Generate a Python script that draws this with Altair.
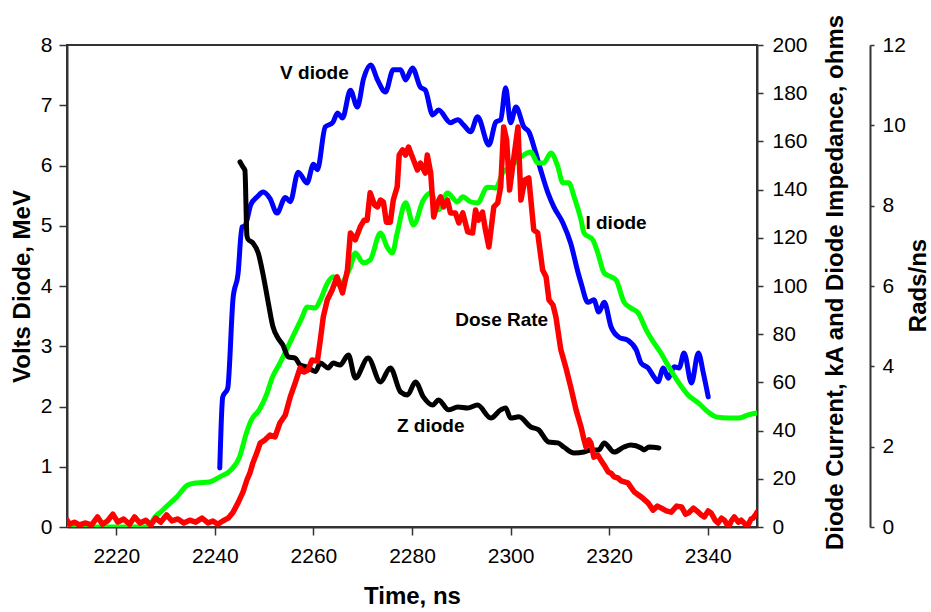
import altair as alt
import pandas as pd

# ---------------- data ----------------
# V diode (MeV, left axis)
v_time = [2241.0, 2241.6, 2242.6, 2243.7, 2244.7, 2245.5, 2246.1, 2247.3, 2248.6, 2249.8,
          2251.2, 2252.6, 2254.3, 2255.3, 2256.9, 2258.7, 2260.0, 2260.8, 2262.4, 2263.9,
          2264.9, 2265.9, 2267.5, 2268.9, 2270.2, 2271.6, 2273.0, 2274.6, 2276.2, 2277.7,
          2278.7, 2280.1, 2281.7, 2282.7, 2284.2, 2285.4, 2287.8, 2289.3, 2290.5, 2291.9,
          2293.3, 2295.6, 2297.0, 2298.0, 2299.0, 2300.0, 2301.1, 2302.7, 2303.7, 2305.1,
          2306.1, 2307.6, 2308.8, 2310.6, 2312.2, 2313.7, 2314.3, 2315.7, 2316.9, 2317.9,
          2319.0, 2320.4, 2322.0, 2323.8, 2325.5, 2326.5, 2327.9, 2329.1, 2329.9, 2331.0,
          2332.0, 2333.2, 2334.2, 2335.2, 2336.7, 2338.1, 2339.1, 2340.1]
v_mev = [0.98, 2.16, 2.30, 3.80, 4.20, 4.98, 5.00, 5.35, 5.48, 5.56,
         5.45, 5.21, 5.47, 5.40, 5.89, 5.71, 6.02, 5.93, 6.64, 6.71,
         6.87, 6.79, 7.25, 6.97, 7.45, 7.67, 7.42, 7.22, 7.59, 7.59,
         7.42, 7.62, 7.30, 7.25, 6.84, 6.92, 6.71, 6.76, 6.67, 6.56,
         6.81, 6.34, 6.72, 6.76, 7.29, 6.71, 6.97, 6.64, 6.56, 6.21,
         5.93, 5.54, 5.31, 5.05, 4.71, 4.22, 4.05, 3.73, 3.77, 3.57,
         3.73, 3.32, 3.15, 3.10, 2.94, 2.72, 2.64, 2.49, 2.41, 2.64,
         2.47, 2.66, 2.64, 2.89, 2.39, 2.89, 2.56, 2.16]

# I diode (kA, right axis)
i_time = [2210.0, 2226.8, 2227.2, 2229.4, 2232.3, 2234.5, 2236.3, 2238.9, 2241.0, 2243.3,
          2245.0, 2246.4, 2247.4, 2249.0, 2250.6, 2251.6, 2253.2, 2255.2, 2257.7, 2258.7,
          2260.4, 2261.4, 2262.8, 2264.0, 2265.4, 2266.1, 2267.5, 2268.5, 2270.1, 2271.5,
          2273.6, 2275.0, 2276.0, 2277.0, 2278.7, 2280.3, 2282.3, 2283.8, 2285.4, 2287.2,
          2289.2, 2290.3, 2291.9, 2293.3, 2295.3, 2297.0, 2298.4, 2300.0, 2302.1, 2304.1,
          2305.5, 2306.7, 2308.2, 2309.6, 2310.6, 2311.8, 2312.9, 2314.3, 2314.9, 2316.7,
          2317.7, 2319.0, 2320.4, 2321.4, 2323.0, 2324.4, 2325.9, 2327.5, 2329.1, 2330.5,
          2331.9, 2334.0, 2336.0, 2338.1, 2340.1, 2341.7, 2344.2, 2346.2, 2348.2, 2350.0]
i_ka = [0.0, 0.0, 2.0, 7.0, 12.5, 17.4, 18.3, 18.7, 20.8, 23.7,
        29.0, 39.0, 44.4, 48.6, 55.6, 61.8, 68.0, 76.4, 87.0, 91.3,
        90.9, 94.2, 101.0, 103.8, 100.0, 102.0, 108.0, 113.7, 109.6, 110.8,
        122.0, 116.0, 113.7, 122.0, 134.5, 125.3, 135.7, 138.6, 131.6, 138.6,
        134.9, 137.0, 134.9, 134.5, 141.0, 140.7, 146.9, 149.4, 153.6, 155.6,
        151.0, 151.0, 155.2, 149.4, 142.8, 142.8, 137.0, 127.4, 122.0, 119.1,
        113.7, 105.4, 103.8, 102.5, 93.4, 90.9, 88.8, 81.8, 76.4, 72.2,
        67.2, 60.2, 54.8, 51.5, 47.7, 45.7, 45.2, 45.2, 46.5, 47.3]

# Z diode (ohms, right axis)
z_time = [2245.1, 2245.7, 2246.1, 2246.5, 2246.7, 2247.7, 2248.8, 2249.8, 2250.8, 2251.8,
          2252.8, 2253.8, 2254.9, 2256.3, 2257.3, 2258.7, 2260.4, 2261.4, 2263.0, 2264.0,
          2265.4, 2267.1, 2268.5, 2271.1, 2273.6, 2275.6, 2277.7, 2279.1, 2280.7, 2282.3,
          2284.2, 2285.4, 2287.4, 2289.3, 2291.3, 2293.3, 2296.0, 2298.0, 2299.0, 2300.0,
          2301.7, 2304.1, 2305.7, 2307.7, 2309.6, 2310.8, 2312.9, 2314.9, 2316.3, 2317.9,
          2319.0, 2321.0, 2323.0, 2324.4, 2326.5, 2327.1, 2328.1, 2330.1]
z_ohm = [151.5, 149.4, 148.0, 121.0, 119.5, 117.9, 113.7, 104.6, 93.5, 83.0,
         78.4, 75.5, 70.6, 70.1, 67.2, 66.4, 64.5, 68.0, 66.0, 68.0,
         67.2, 71.4, 61.8, 70.1, 60.2, 66.0, 56.0, 54.8, 60.2, 54.0,
         50.6, 52.7, 48.6, 49.8, 49.4, 50.6, 45.2, 48.6, 49.4, 45.2,
         45.7, 41.5, 40.3, 35.3, 34.9, 33.2, 30.7, 31.1, 32.0, 32.0,
         34.9, 31.1, 33.2, 34.0, 32.8, 32.0, 33.2, 32.8]

# Dose rate (Rads/ns, far right axis)
r_time = [2210.0, 2210.5, 2211.5, 2212.5, 2213.8, 2215.0, 2216.2, 2217.2, 2218.2, 2219.3,
          2220.3, 2221.5, 2222.7, 2223.7, 2224.8, 2226.0, 2227.0, 2228.0, 2229.0, 2230.2,
          2231.3, 2232.5, 2233.7, 2234.9, 2236.1, 2237.4, 2238.6, 2239.6, 2240.6, 2241.6,
          2242.7, 2243.7, 2244.7, 2245.7, 2246.5, 2247.1, 2247.7, 2248.5, 2249.2, 2250.2,
          2251.2, 2252.2, 2253.2, 2254.3, 2255.3, 2256.3, 2257.3, 2258.1, 2258.9, 2259.7,
          2260.8, 2261.4, 2262.0, 2262.8, 2263.8, 2264.8, 2265.9, 2266.9, 2267.5, 2268.5,
          2269.5, 2270.3, 2270.9, 2271.5, 2272.4, 2273.0, 2273.6, 2274.2, 2274.8, 2275.6,
          2276.2, 2277.0, 2277.4, 2278.1, 2278.7, 2279.3, 2280.3, 2281.1, 2281.7, 2282.7,
          2283.1, 2283.8, 2284.4, 2285.2, 2285.8, 2286.4, 2287.2, 2287.8, 2288.8, 2289.5,
          2290.3, 2291.3, 2292.3, 2292.9, 2293.5, 2294.3, 2294.9, 2295.6, 2296.6, 2297.4,
          2298.0, 2298.6, 2299.2, 2299.8, 2300.6, 2301.5, 2302.1, 2302.9, 2303.7, 2304.7,
          2305.5, 2306.5, 2307.2, 2307.8, 2308.6, 2309.2, 2310.2, 2311.2, 2312.2, 2313.3,
          2314.3, 2314.9, 2315.3, 2315.9, 2316.3, 2316.9, 2317.7, 2318.3, 2319.0, 2319.8,
          2320.4, 2321.0, 2321.8, 2322.4, 2323.8, 2325.1, 2326.5, 2327.9, 2328.9, 2329.8,
          2330.6, 2331.6, 2332.6, 2333.7, 2334.7, 2335.5, 2336.1, 2337.1, 2338.1, 2338.7,
          2339.3, 2340.1, 2340.7, 2341.5, 2342.1, 2342.8, 2343.4, 2344.2, 2344.8, 2345.4,
          2346.2, 2346.8, 2347.6, 2348.2, 2348.8, 2349.2, 2349.8, 2350.0]
r_rads = [0.17, 0.07, 0.12, 0.05, 0.10, 0.05, 0.25, 0.07, 0.15, 0.32,
          0.12, 0.20, 0.07, 0.25, 0.10, 0.17, 0.05, 0.22, 0.12, 0.30,
          0.15, 0.20, 0.10, 0.17, 0.12, 0.22, 0.10, 0.15, 0.07, 0.15,
          0.22, 0.37, 0.60, 0.87, 1.17, 1.34, 1.59, 1.84, 2.09, 2.17,
          2.29, 2.24, 2.59, 2.79, 3.24, 3.59, 3.96, 3.86, 3.91, 4.16,
          4.13, 4.66, 5.23, 5.65, 5.90, 6.23, 5.83, 6.40, 7.32, 7.15,
          7.47, 7.64, 7.64, 8.32, 8.02, 7.97, 8.14, 8.09, 7.59, 7.59,
          8.14, 8.47, 9.26, 9.39, 9.26, 9.46, 9.14, 8.89, 9.06, 8.81,
          9.26, 8.81, 7.72, 8.07, 8.22, 7.97, 8.14, 7.82, 7.82, 7.57,
          7.82, 7.35, 7.32, 7.89, 7.64, 7.84, 7.40, 6.97, 7.97, 8.07,
          8.47, 9.96, 9.64, 8.39, 9.14, 9.96, 8.14, 8.64, 8.69, 7.40,
          7.32, 6.40, 6.23, 5.65, 5.53, 5.23, 4.41, 3.98, 3.49, 2.91,
          2.49, 2.17, 1.99, 2.17, 2.09, 1.74, 1.79, 1.67, 1.54, 1.37,
          1.34, 1.25, 1.22, 1.15, 1.10, 0.87, 0.75, 0.60, 0.42, 0.52,
          0.47, 0.40, 0.37, 0.52, 0.50, 0.32, 0.35, 0.47, 0.37, 0.30,
          0.25, 0.40, 0.35, 0.17, 0.10, 0.22, 0.17, 0.00, 0.15, 0.25,
          0.12, 0.17, 0.07, 0.05, 0.20, 0.22, 0.32, 0.37]

# curve labels (positioned on the left-axis scale)
ann_text = ["V diode", "I diode", "Dose Rate", "Z diode"]
ann_time = [2260.2, 2321.4, 2298.2, 2283.8]
ann_mev = [7.54, 5.05, 3.44, 1.68]

x_ticks = [2220, 2240, 2260, 2280, 2300, 2320, 2340]
left_ticks = [0, 1, 2, 3, 4, 5, 6, 7, 8]
ka_ticks = [0, 20, 40, 60, 80, 100, 120, 140, 160, 180, 200]
rad_ticks = [0, 2, 4, 6, 8, 10, 12]

# ---------------- chart ----------------
FONT = "Liberation Sans"
AX = "#333333"

df_v = pd.DataFrame({"t": v_time, "y": v_mev})
df_i = pd.DataFrame({"t": i_time, "y": i_ka})
df_z = pd.DataFrame({"t": z_time, "y": z_ohm})
df_r = pd.DataFrame({"t": r_time, "y": r_rads})
df_a = pd.DataFrame({"t": ann_time, "y": ann_mev, "label": ann_text})

common_axis = dict(grid=False, labelFont=FONT, labelFontSize=21, labelColor="black",
                   titleFont=FONT, titleFontSize=24, titleFontWeight="bold", titleColor="black",
                   domainColor=AX, domainWidth=2, tickColor=AX, tickWidth=1.5)

x_enc = alt.X("t:Q",
              scale=alt.Scale(domain=[2210, 2350], nice=False, zero=False),
              axis=alt.Axis(values=x_ticks, title="Time, ns", format="d", tickSize=8,
                            labelPadding=10, titleX=345, titleY=76,
                            titleBaseline="alphabetic", **common_axis))

left_axis = alt.Axis(orient="left", values=left_ticks, title="Volts Diode, MeV",
                     tickSize=8, labelPadding=7, titleAngle=270, titleX=-38, titleY=241,
                     titleBaseline="alphabetic", titleAlign="center", **common_axis)
ka_axis = alt.Axis(orient="right", values=ka_ticks,
                   title="Diode Current, kA and Diode Impedance, ohms",
                   tickSize=6, labelPadding=9, titleAngle=270, titleX=85, titleY=237,
                   titleBaseline="alphabetic", titleAlign="center", **common_axis)
rad_axis = alt.Axis(orient="right", values=rad_ticks, title="Rads/ns", offset=113,
                    tickSize=4, labelPadding=8, titleAngle=270, titleX=55, titleY=240,
                    titleBaseline="alphabetic", titleAlign="center", **common_axis)

line_style = dict(strokeWidth=5, strokeCap="round", strokeJoin="round", clip=True)

v_layer = alt.Chart(df_v).mark_line(color="#0000FF", interpolate="monotone", **line_style).encode(
    x=x_enc, y=alt.Y("y:Q", scale=alt.Scale(domain=[0, 8], nice=False), axis=left_axis))
i_layer = alt.Chart(df_i).mark_line(color="#00FF00", interpolate="monotone", **line_style).encode(
    x=x_enc, y=alt.Y("y:Q", scale=alt.Scale(domain=[0, 200], nice=False), axis=ka_axis))
z_layer = alt.Chart(df_z).mark_line(color="#000000", interpolate="monotone", **line_style).encode(
    x=x_enc, y=alt.Y("y:Q", scale=alt.Scale(domain=[0, 200], nice=False), axis=None))
r_layer = alt.Chart(df_r).mark_line(color="#FF0000", strokeWidth=5.5, strokeCap="round",
                                    strokeJoin="round", clip=True).encode(
    x=x_enc, y=alt.Y("y:Q", scale=alt.Scale(domain=[0, 12], nice=False), axis=rad_axis))
txt = alt.Chart(df_a).mark_text(font=FONT, fontSize=19, fontWeight="bold", color="black",
                                align="center", baseline="middle").encode(
    x=x_enc, y=alt.Y("y:Q", scale=alt.Scale(domain=[0, 8], nice=False), axis=None),
    text="label:N")

chart = alt.layer(v_layer, i_layer, z_layer, r_layer, txt).resolve_scale(
    y="independent"
).properties(
    width=690, height=482,
    autosize=alt.AutoSizeParams(type="none"),
    padding={"left": 67, "top": 45, "right": 174, "bottom": 85},
    background="white",
).configure_view(stroke=AX, strokeWidth=2)

chart.save("out.html", embed_options={"renderer": "svg", "actions": False})
